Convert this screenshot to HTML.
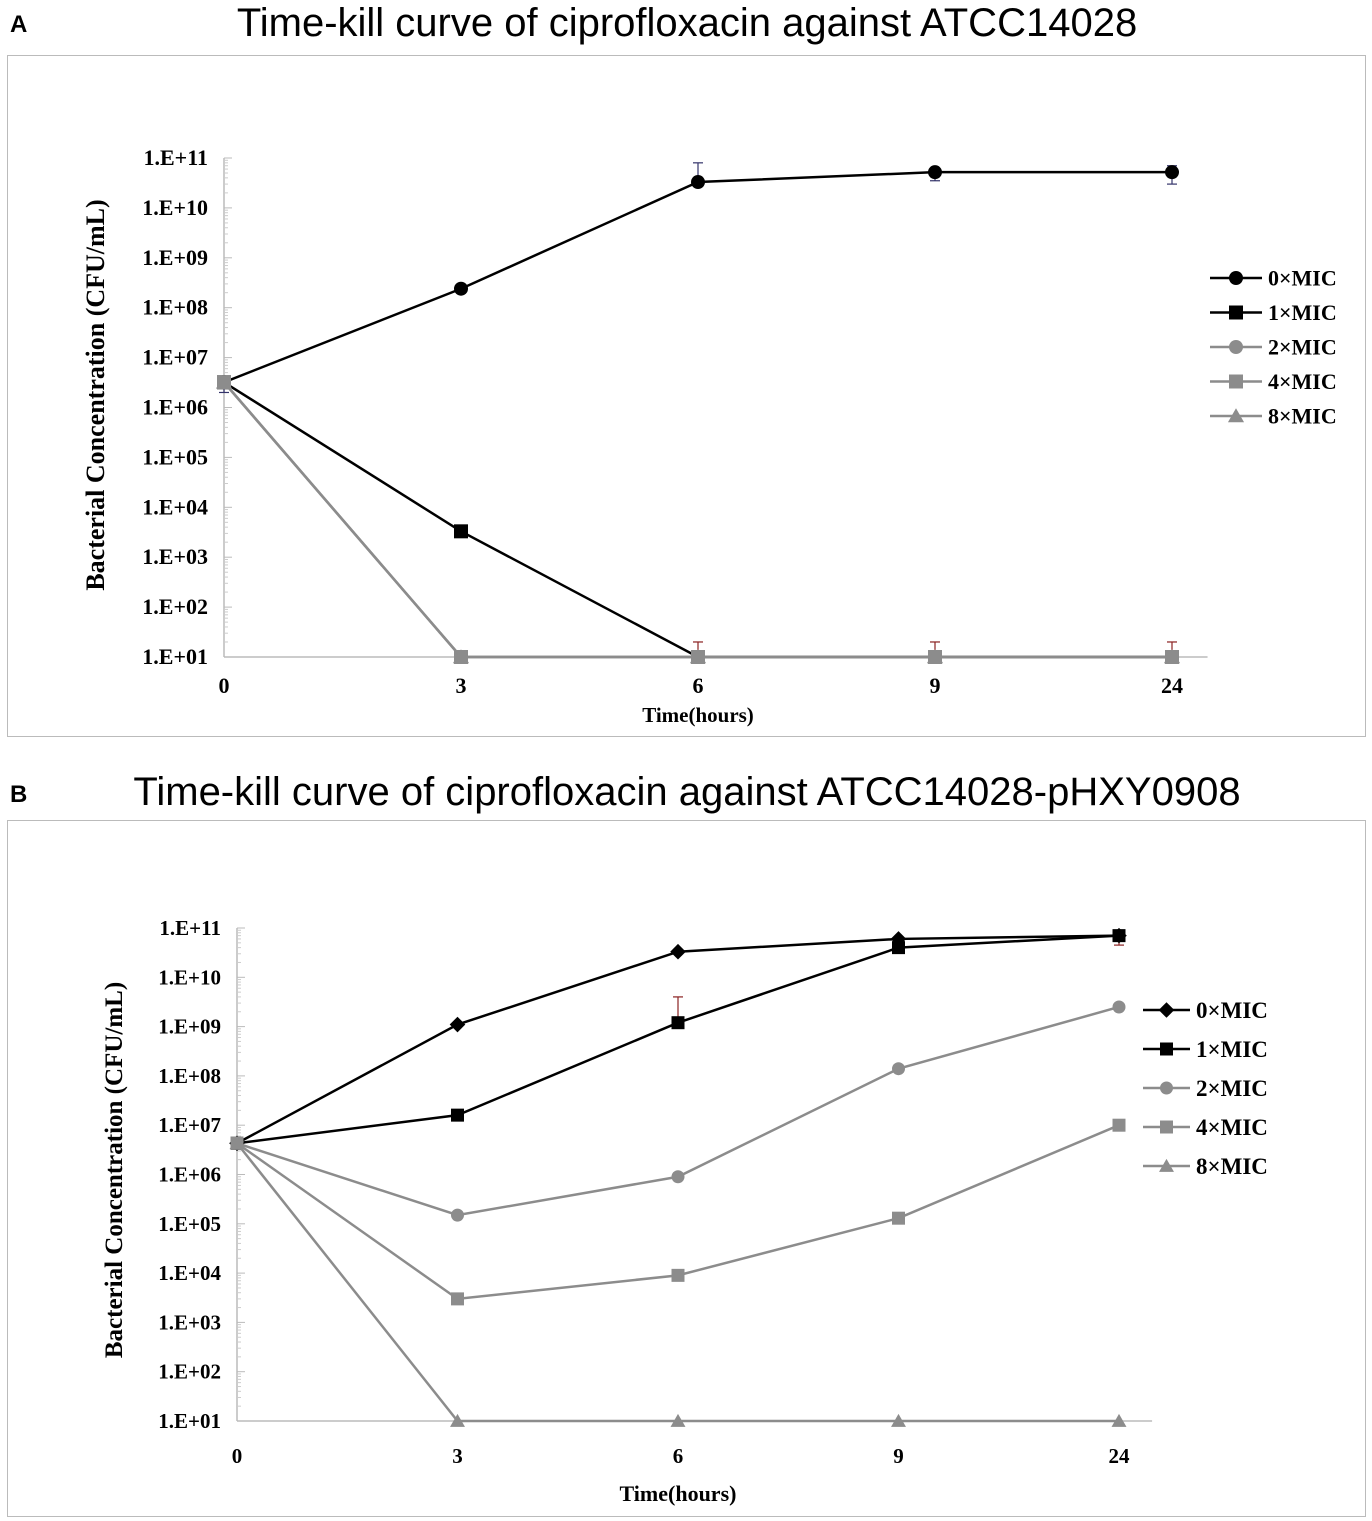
<!DOCTYPE html>
<html><head><meta charset="utf-8"><style>
body{margin:0;background:#fff;}
svg{display:block;}
</style></head><body>
<svg id="chart" width="1372" height="1521" xmlns="http://www.w3.org/2000/svg" font-family="Liberation Serif, serif">
<text x="10" y="32" font-family="Liberation Sans, sans-serif" font-weight="bold" font-size="24">A</text>
<text x="687" y="36" text-anchor="middle" font-family="Liberation Sans, sans-serif" font-size="40">Time-kill curve of ciprofloxacin against ATCC14028</text>
<rect x="7.5" y="55.5" width="1358" height="681" fill="none" stroke="#bbb"/>
<text x="10" y="802" font-family="Liberation Sans, sans-serif" font-weight="bold" font-size="24">B</text>
<text x="687" y="805" text-anchor="middle" font-family="Liberation Sans, sans-serif" font-size="40">Time-kill curve of ciprofloxacin against ATCC14028-pHXY0908</text>
<rect x="7.5" y="820.5" width="1358" height="696" fill="none" stroke="#bbb"/>
</svg>
<script>
const categories=["0","3","6","9","24"];
const yTicks=["1.E+01","1.E+02","1.E+03","1.E+04","1.E+05","1.E+06","1.E+07","1.E+08","1.E+09","1.E+10","1.E+11"];
const seriesNames=["0×MIC","1×MIC","2×MIC","4×MIC","8×MIC"];
const a0=[3.2e6,2.4e8,3.3e10,5.2e10,5.2e10];
const a1=[3.2e6,3.3e3,10,10,10];
const a2=[3.2e6,10,10,10,10];
const a4=[3.2e6,10,10,10,10];
const a8=[3.2e6,10,10,10,10];
const b0=[4.3e6,1.1e9,3.3e10,6e10,7e10];
const b1=[4.3e6,1.6e7,1.2e9,4e10,7e10];
const b2=[4.3e6,1.5e5,9e5,1.4e8,2.5e9];
const b4=[4.3e6,3e3,9e3,1.3e5,1e7];
const b8=[4.3e6,10,10,10,10];
// error bars: [seriesIndex, categoryIndex, low, high]
const errA=[[0,2,3.3e10,8e10],[0,3,3.5e10,5.2e10],[0,4,3e10,7e10],[1,2,10,20],[1,3,10,20],[1,4,10,20],[0,0,2e6,3.2e6]];
const errB=[[1,2,1.2e9,4e9],[1,4,4.5e10,7e10],[0,4,7e10,8.5e10]];

const NS="http://www.w3.org/2000/svg";
const svg=document.getElementById('chart');
function mk(tag,attrs,parent){const e=document.createElementNS(NS,tag);for(const k in attrs)e.setAttribute(k,attrs[k]);(parent||svg).appendChild(e);return e;}

function panel(p){
  const g=mk('g',{});
  
  
  const xS=i=>p.x0+i*p.dx;
  const yS=v=>p.yTop+(11-Math.log10(v))*p.dec;
  const ax=mk('line',{x1:p.x0,y1:yS(1e11),x2:p.x0,y2:yS(10),stroke:'#bbb','stroke-width':1.5},g);
  
  
  const xa=mk('line',{x1:p.x0,y1:yS(10),x2:xS(4)+p.dx*0.15,y2:yS(10),stroke:'#bbb','stroke-width':1.5},g);
  
  
  yTicks.forEach((t,i)=>{
    const y=yS(Math.pow(10,i+1));
    mk('line',{x1:p.x0,y1:y,x2:p.x0+8,y2:y,stroke:'#bbb'},g);
    if(i<10){for(let m=2;m<10;m++){const ym=yS(m*Math.pow(10,i+1));mk('line',{x1:p.x0,y1:ym,x2:p.x0+4,y2:ym,stroke:'#ccc'},g);}}
    const tx=mk('text',{x:p.x0-16,y:y+7,'text-anchor':'end','font-weight':'bold','font-size':p.tf},g);
    tx.textContent=t;
    
    
  });
  categories.forEach((c,i)=>{
    const tx=mk('text',{x:xS(i),y:yS(10)+p.xl,'text-anchor':'middle','font-weight':'bold','font-size':p.tf},g);
    tx.textContent=c;
    
    
  });
  const xt=mk('text',{x:(p.x0+xS(4))/2,y:p.xtY,'text-anchor':'middle','font-weight':'bold','font-size':p.xf},g);
  xt.textContent='Time(hours)';
  
  
  const yt=mk('text',{x:0,y:0,'text-anchor':'middle','font-weight':'bold','font-size':p.af,transform:`translate(${p.ytX},${p.ytY}) rotate(-90)`},g);
  yt.textContent='Bacterial Concentration (CFU/mL)';
  
  
  const cols=['#000','#000','#8c8c8c','#8c8c8c','#8c8c8c'];
  const shapes=p.shapes;
  function marker(par,shape,x,y,col,s){
    if(shape==='c')return mk('circle',{cx:x,cy:y,r:s,fill:col},par);
    if(shape==='s')return mk('rect',{x:x-s,y:y-s,width:2*s,height:2*s,fill:col},par);
    if(shape==='d')return mk('polygon',{points:`${x},${y-s*1.2} ${x+s*1.2},${y} ${x},${y+s*1.2} ${x-s*1.2},${y}`,fill:col},par);
    return mk('polygon',{points:`${x},${y-s*1.1} ${x+s*1.15},${y+s*0.9} ${x-s*1.15},${y+s*0.9}`,fill:col},par);
  }
  p.err.forEach(e=>{
    const x=xS(e[1]);const col=e[0]===0?'#33336a':'#8a2020';
    mk('line',{x1:x,y1:yS(e[2]),x2:x,y2:yS(e[3]),stroke:col,'stroke-width':1.2},g);
    mk('line',{x1:x-5,y1:yS(e[3]),x2:x+5,y2:yS(e[3]),stroke:col,'stroke-width':1.2},g);
    if(e[2]<e[3]&&e[1]!==2)mk('line',{x1:x-5,y1:yS(e[2]),x2:x+5,y2:yS(e[2]),stroke:col,'stroke-width':1.2},g);
  });
  [0,1,2,3,4].forEach(si=>{
    const d=p.data[si];
    const sg=mk('g',{},g);
    
    
    mk('polyline',{points:d.map((v,i)=>xS(i)+','+yS(v)).join(' '),fill:'none',stroke:cols[si],'stroke-width':2.5},sg);
    d.forEach((v,i)=>{
      const m=marker(sg,shapes[si],xS(i),yS(v),cols[si],p.ms);
      
      
    });
  });
  seriesNames.forEach((n,i)=>{
    const y=p.lgY+i*p.lgDy;
    const lg=mk('g',{},g);
    
    
    mk('line',{x1:p.lgX,y1:y,x2:p.lgX+p.lgW,y2:y,stroke:cols[i],'stroke-width':2.5},lg);
    marker(lg,shapes[i],p.lgX+p.lgW/2,y,cols[i],p.ms);
    const t=mk('text',{x:p.lgX+p.lgW+6,y:y+p.lf*0.35,'font-weight':'bold','font-size':p.lf},lg);
    t.textContent=n;
  });
}
panel({id:'panel-a',x0:224,dx:237,yTop:158,dec:49.9,data:[a0,a1,a2,a4,a8],err:errA,shapes:['c','s','c','s','t'],
  tf:22,xl:36,af:26,xf:21,xtY:722,ytX:104,ytY:395,ms:7,lgX:1210,lgW:52,lgY:278,lgDy:34.5,lf:22});
panel({id:'panel-b',x0:237,dx:220.5,yTop:928,dec:49.3,data:[b0,b1,b2,b4,b8],err:errB,shapes:['d','s','c','s','t'],
  tf:21,xl:42,af:25,xf:22,xtY:1501,ytX:122,ytY:1170,ms:6.5,lgX:1143,lgW:47,lgY:1010,lgDy:39,lf:23});
</script>
</body></html>
